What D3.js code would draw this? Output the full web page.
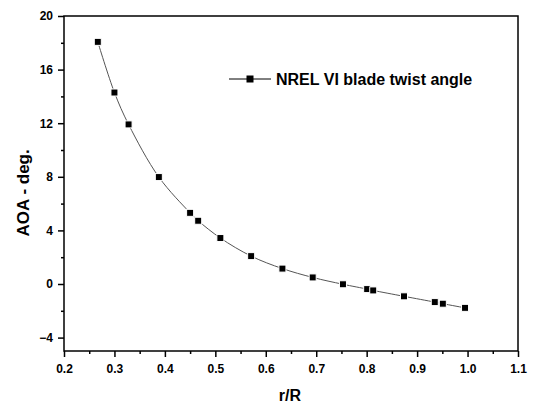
<!doctype html>
<html>
<head>
<meta charset="utf-8">
<script src="https://cdn.jsdelivr.net/npm/d3@7"></script>
<style>
  body { margin: 0; background: #fff; }
  text { font-family: "Liberation Sans", Arial, sans-serif; font-weight: bold; fill: #000; }
</style>
</head>
<body>
<script>
// r/R stations and twist angle (deg)
var rR    = [0.267, 0.300, 0.328, 0.388, 0.450, 0.466, 0.510, 0.571, 0.633, 0.693, 0.753, 0.801, 0.813, 0.874, 0.935, 0.951, 0.995];
var twist = [18.07, 14.29, 11.91, 7.98, 5.31, 4.72, 3.43, 2.08, 1.15, 0.49, -0.02, -0.38, -0.48, -0.92, -1.35, -1.47, -1.78];
var xTicks = [0.2, 0.3, 0.4, 0.5, 0.6, 0.7, 0.8, 0.9, 1.0, 1.1];
var yTicks = [-4, 0, 4, 8, 12, 16, 20];
var seriesName = "NREL VI blade twist angle";

var W = 533, H = 404;
var margin = {top: 16, right: 15, bottom: 53, left: 64},
    width = W - margin.left - margin.right,
    height = H - margin.top - margin.bottom;

var svg = d3.select("body").append("svg")
    .attr("width", W)
    .attr("height", H);

var g = svg.append("g")
    .attr("transform", "translate(" + margin.left + "," + margin.top + ")");

var x = d3.scaleLinear().domain([0.2, 1.1]).range([0, width]);
var y = d3.scaleLinear().domain([-5, 20]).range([height, 0]);

// minor ticks
g.append("g")
    .attr("transform", "translate(0," + height + ")")
    .call(d3.axisBottom(x).tickValues(d3.range(0.25, 1.1, 0.1)).tickSize(3).tickFormat(""))
    .call(function(s) { s.select(".domain").remove(); s.selectAll("line").attr("stroke-width", 1.5); });
g.append("g")
    .call(d3.axisLeft(y).tickValues(d3.range(-2, 20, 4)).tickSize(3).tickFormat(""))
    .call(function(s) { s.select(".domain").remove(); s.selectAll("line").attr("stroke-width", 1.5); });

// major axes
var xAxis = g.append("g")
    .attr("transform", "translate(0," + height + ")")
    .call(d3.axisBottom(x).tickValues(xTicks).tickSize(6).tickPadding(7).tickFormat(d3.format(".1f")));
var yAxis = g.append("g")
    .call(d3.axisLeft(y).tickValues(yTicks).tickSize(6).tickPadding(5).tickFormat(d3.format("d")));

[xAxis, yAxis].forEach(function(a) {
  a.select(".domain").remove();
  a.selectAll("line").attr("stroke-width", 1.5);
  a.selectAll("text").style("font-size", "12px").style("font-family", "\"Liberation Sans\", Arial, sans-serif").style("font-weight", "bold");
});

// frame
g.append("rect")
    .attr("width", width).attr("height", height)
    .attr("fill", "none").attr("stroke", "#000").attr("stroke-width", 1.5);

// line
var pts = rR.map(function(d, i) { return [d, twist[i]]; });
var line = d3.line()
    .x(function(d) { return x(d[0]); })
    .y(function(d) { return y(d[1]); })
    .curve(d3.curveCatmullRom);

g.append("path")
    .datum(pts)
    .attr("fill", "none")
    .attr("stroke", "#555")
    .attr("stroke-width", 1)
    .attr("d", line);

// markers
g.selectAll(".pt")
    .data(pts)
    .enter().append("rect")
    .attr("class", "pt")
    .attr("x", function(d) { return x(d[0]) - 3.5; })
    .attr("y", function(d) { return y(d[1]) - 3.5; })
    .attr("width", 7).attr("height", 7)
    .attr("fill", "#000")
    .attr("stroke", "#fff")
    .attr("stroke-width", 1);

// legend
var lg = svg.append("g").attr("transform", "translate(229,79)");
lg.append("line").attr("x1", 0).attr("x2", 42).attr("y1", 0).attr("y2", 0)
    .attr("stroke", "#000").attr("stroke-width", 1);
lg.append("rect").attr("x", 17.5).attr("y", -3.5).attr("width", 7).attr("height", 7).attr("fill", "#000");
lg.append("text").attr("x", 47).attr("y", 6).style("font-size", "16px").text(seriesName);

// axis titles
svg.append("text")
    .attr("x", margin.left + x(0.648)).attr("y", 401)
    .attr("text-anchor", "middle")
    .style("font-size", "16px")
    .text("r/R");

svg.append("text")
    .attr("transform", "translate(29," + (margin.top + y(6.8)) + ") rotate(-90)")
    .attr("text-anchor", "middle")
    .style("font-size", "17px")
    .text("AOA - deg.");
</script>
</body>
</html>
